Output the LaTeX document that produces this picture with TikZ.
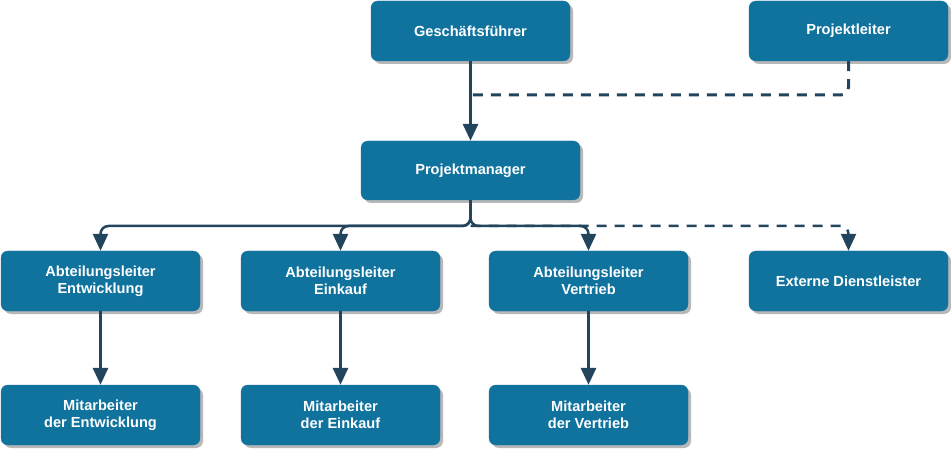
\documentclass[tikz,border=0pt]{standalone}
\usepackage{fontspec}
\setmainfont{Liberation Sans}
\usetikzlibrary{arrows.meta,shadows}
\definecolor{boxfill}{HTML}{10739E}
\definecolor{linec}{HTML}{23445D}
\definecolor{shadowc}{HTML}{B8B8B8}
\begin{document}
\begin{tikzpicture}[x=1pt,y=-1pt,
  box/.style={draw=boxfill,fill=boxfill,rounded corners=7pt,minimum width=199pt,minimum height=60pt,
    text=white,font=\bfseries\fontsize{14.6}{17}\selectfont,align=center,inner sep=0pt,
    drop shadow={shadow xshift=3pt,shadow yshift=-3pt,fill=shadowc,opacity=1}},
  wide/.style={minimum width=219pt,minimum height=59pt},
  conn/.style={draw=linec,line width=3pt,rounded corners=8pt,-{Triangle[length=17pt,width=15pt]}},
  dconn/.style={conn,dash pattern=on 10pt off 8pt},
  dline/.style={draw=linec,line width=3pt,rounded corners=8pt,dash pattern=on 10pt off 8pt}]
\useasboundingbox (0,0) rectangle (951,449);
\node[box] (gf) at (470.5,31) {Geschäftsführer};
\node[box] (pl) at (848.5,31) {Projektleiter};
\node[box,wide] (pm) at (470.5,170.5) {Projektmanager};
\node[box] (ae) at (100.5,281) {Abteilungsleiter\\Entwicklung};
\node[box] (aei) at (340.5,281) {Abteilungsleiter\\Einkauf};
\node[box] (av) at (588.5,281) {Abteilungsleiter\\Vertrieb};
\node[box] (ex) at (848.5,281) {Externe Dienstleister};
\node[box] (me) at (100.5,415) {Mitarbeiter\\der Entwicklung};
\node[box] (mei) at (340.5,415) {Mitarbeiter\\der Einkauf};
\node[box] (mv) at (588.5,415) {Mitarbeiter\\der Vertrieb};
\coordinate (j1) at (470.5,95);
\coordinate (j2) at (470.5,226);
\draw[dline] (pl.south) -- (848.5,95) -- (j1);
\draw[conn] (gf.south) -- (pm.north);
\draw[conn,line width=2.5pt] (pm.south) -- (j2) -- (100.5,226) -- (ae.north);
\draw[conn,line width=2.5pt] (pm.south) -- (j2) -- (340.5,226) -- (aei.north);
\draw[conn,line width=2.5pt] (pm.south) -- (j2) -- (588.5,226) -- (av.north);
\draw[dconn,line width=2.5pt] (j2) -- (848.5,226) -- (ex.north);
\draw[conn] (ae.south) -- (me.north);
\draw[conn] (aei.south) -- (mei.north);
\draw[conn] (av.south) -- (mv.north);
\end{tikzpicture}
\end{document}
